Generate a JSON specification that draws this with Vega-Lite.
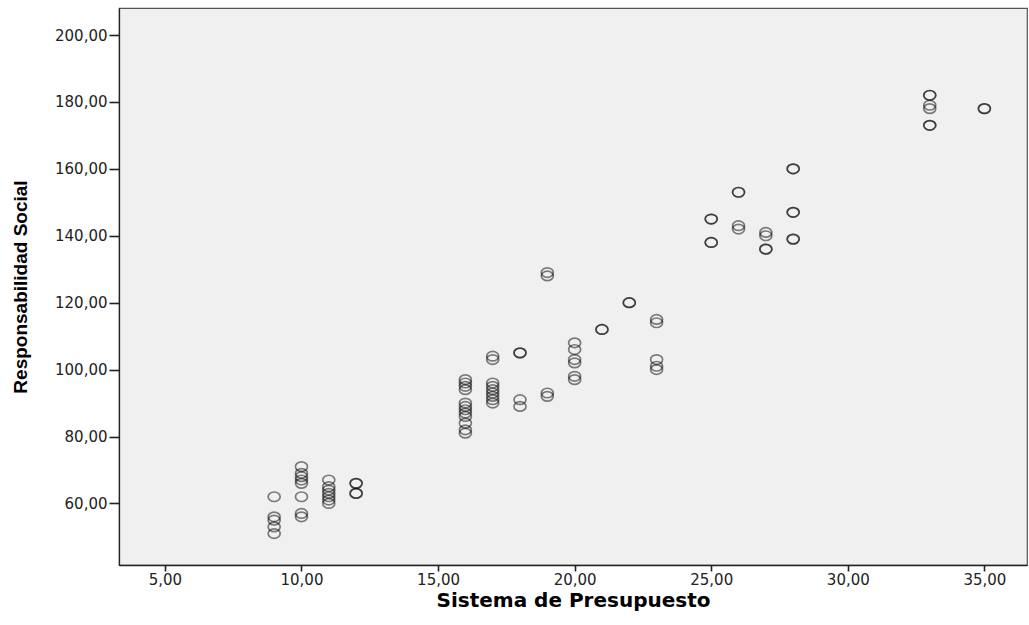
{
  "$schema": "https://vega.github.io/schema/vega-lite/v6.json",
  "width": 908,
  "height": 557,
  "autosize": "none",
  "padding": {"left": 119, "top": 8, "right": 2, "bottom": 60},
  "background": "white",
  "config": {
    "view": {"fill": "#f0f0f0", "stroke": "#555555", "strokeWidth": 1.2},
    "axis": {
      "grid": false,
      "domainColor": "#222222",
      "domainWidth": 1.3,
      "tickColor": "#222222",
      "tickWidth": 1.6,
      "labelFont": "DejaVu Sans",
      "labelFontSize": 15,
      "labelColor": "#222222",
      "titleColor": "#000000",
      "titleFontWeight": "bold"
    }
  },
  "data": {
    "values": [
      {"presupuesto": 9, "responsabilidad": 62},
      {"presupuesto": 9, "responsabilidad": 56},
      {"presupuesto": 9, "responsabilidad": 55},
      {"presupuesto": 9, "responsabilidad": 53},
      {"presupuesto": 9, "responsabilidad": 51},
      {"presupuesto": 10, "responsabilidad": 71},
      {"presupuesto": 10, "responsabilidad": 69},
      {"presupuesto": 10, "responsabilidad": 68},
      {"presupuesto": 10, "responsabilidad": 67},
      {"presupuesto": 10, "responsabilidad": 66},
      {"presupuesto": 10, "responsabilidad": 62},
      {"presupuesto": 10, "responsabilidad": 57},
      {"presupuesto": 10, "responsabilidad": 56},
      {"presupuesto": 11, "responsabilidad": 67},
      {"presupuesto": 11, "responsabilidad": 65},
      {"presupuesto": 11, "responsabilidad": 64},
      {"presupuesto": 11, "responsabilidad": 63},
      {"presupuesto": 11, "responsabilidad": 62},
      {"presupuesto": 11, "responsabilidad": 61},
      {"presupuesto": 11, "responsabilidad": 60},
      {"presupuesto": 12, "responsabilidad": 66},
      {"presupuesto": 12, "responsabilidad": 66},
      {"presupuesto": 12, "responsabilidad": 63},
      {"presupuesto": 12, "responsabilidad": 63},
      {"presupuesto": 16, "responsabilidad": 97},
      {"presupuesto": 16, "responsabilidad": 96},
      {"presupuesto": 16, "responsabilidad": 95},
      {"presupuesto": 16, "responsabilidad": 94},
      {"presupuesto": 16, "responsabilidad": 90},
      {"presupuesto": 16, "responsabilidad": 89},
      {"presupuesto": 16, "responsabilidad": 88},
      {"presupuesto": 16, "responsabilidad": 87},
      {"presupuesto": 16, "responsabilidad": 86},
      {"presupuesto": 16, "responsabilidad": 84},
      {"presupuesto": 16, "responsabilidad": 82},
      {"presupuesto": 16, "responsabilidad": 81},
      {"presupuesto": 17, "responsabilidad": 104},
      {"presupuesto": 17, "responsabilidad": 103},
      {"presupuesto": 17, "responsabilidad": 96},
      {"presupuesto": 17, "responsabilidad": 95},
      {"presupuesto": 17, "responsabilidad": 94},
      {"presupuesto": 17, "responsabilidad": 93},
      {"presupuesto": 17, "responsabilidad": 92},
      {"presupuesto": 17, "responsabilidad": 91},
      {"presupuesto": 17, "responsabilidad": 90},
      {"presupuesto": 18, "responsabilidad": 105},
      {"presupuesto": 18, "responsabilidad": 105},
      {"presupuesto": 18, "responsabilidad": 91},
      {"presupuesto": 18, "responsabilidad": 89},
      {"presupuesto": 19, "responsabilidad": 129},
      {"presupuesto": 19, "responsabilidad": 128},
      {"presupuesto": 19, "responsabilidad": 93},
      {"presupuesto": 19, "responsabilidad": 92},
      {"presupuesto": 20, "responsabilidad": 108},
      {"presupuesto": 20, "responsabilidad": 106},
      {"presupuesto": 20, "responsabilidad": 103},
      {"presupuesto": 20, "responsabilidad": 102},
      {"presupuesto": 20, "responsabilidad": 98},
      {"presupuesto": 20, "responsabilidad": 97},
      {"presupuesto": 21, "responsabilidad": 112},
      {"presupuesto": 21, "responsabilidad": 112},
      {"presupuesto": 22, "responsabilidad": 120},
      {"presupuesto": 22, "responsabilidad": 120},
      {"presupuesto": 23, "responsabilidad": 115},
      {"presupuesto": 23, "responsabilidad": 114},
      {"presupuesto": 23, "responsabilidad": 103},
      {"presupuesto": 23, "responsabilidad": 101},
      {"presupuesto": 23, "responsabilidad": 100},
      {"presupuesto": 25, "responsabilidad": 145},
      {"presupuesto": 25, "responsabilidad": 145},
      {"presupuesto": 25, "responsabilidad": 138},
      {"presupuesto": 25, "responsabilidad": 138},
      {"presupuesto": 26, "responsabilidad": 153},
      {"presupuesto": 26, "responsabilidad": 153},
      {"presupuesto": 26, "responsabilidad": 143},
      {"presupuesto": 26, "responsabilidad": 142},
      {"presupuesto": 27, "responsabilidad": 141},
      {"presupuesto": 27, "responsabilidad": 140},
      {"presupuesto": 27, "responsabilidad": 136},
      {"presupuesto": 27, "responsabilidad": 136},
      {"presupuesto": 28, "responsabilidad": 160},
      {"presupuesto": 28, "responsabilidad": 160},
      {"presupuesto": 28, "responsabilidad": 147},
      {"presupuesto": 28, "responsabilidad": 147},
      {"presupuesto": 28, "responsabilidad": 139},
      {"presupuesto": 28, "responsabilidad": 139},
      {"presupuesto": 33, "responsabilidad": 182},
      {"presupuesto": 33, "responsabilidad": 182},
      {"presupuesto": 33, "responsabilidad": 179},
      {"presupuesto": 33, "responsabilidad": 178},
      {"presupuesto": 33, "responsabilidad": 173},
      {"presupuesto": 33, "responsabilidad": 173},
      {"presupuesto": 35, "responsabilidad": 178},
      {"presupuesto": 35, "responsabilidad": 178}
    ]
  },
  "mark": {
    "type": "point",
    "shape": "M -1.2 0 A 1.2 0.95 0 1 0 1.2 0 A 1.2 0.95 0 1 0 -1.2 0 Z",
    "filled": false,
    "size": 100,
    "stroke": "#000000",
    "strokeWidth": 1.7,
    "strokeOpacity": 0.7,
    "clip": true
  },
  "encoding": {
    "x": {
      "field": "presupuesto",
      "type": "quantitative",
      "scale": {"domain": [3.32, 36.56], "nice": false, "zero": false},
      "axis": {
        "title": "Sistema de Presupuesto",
        "titleFont": "DejaVu Sans",
        "titleFontSize": 20,
        "titlePadding": 3,
        "values": [5, 10, 15, 20, 25, 30, 35],
        "labelExpr": "replace(format(datum.value, '.2f'), '.', ',')",
        "tickSize": 6,
        "labelPadding": 1
      }
    },
    "y": {
      "field": "responsabilidad",
      "type": "quantitative",
      "scale": {"domain": [41.6, 208.07], "nice": false, "zero": false},
      "axis": {
        "title": "Responsabilidad Social",
        "titleFont": "Liberation Sans Narrow, Liberation Sans",
        "titleFontSize": 19,
        "titlePadding": 24,
        "values": [60, 80, 100, 120, 140, 160, 180, 200],
        "labelExpr": "replace(format(datum.value, '.2f'), '.', ',')",
        "tickSize": 10,
        "labelPadding": 2
      }
    }
  }
}
